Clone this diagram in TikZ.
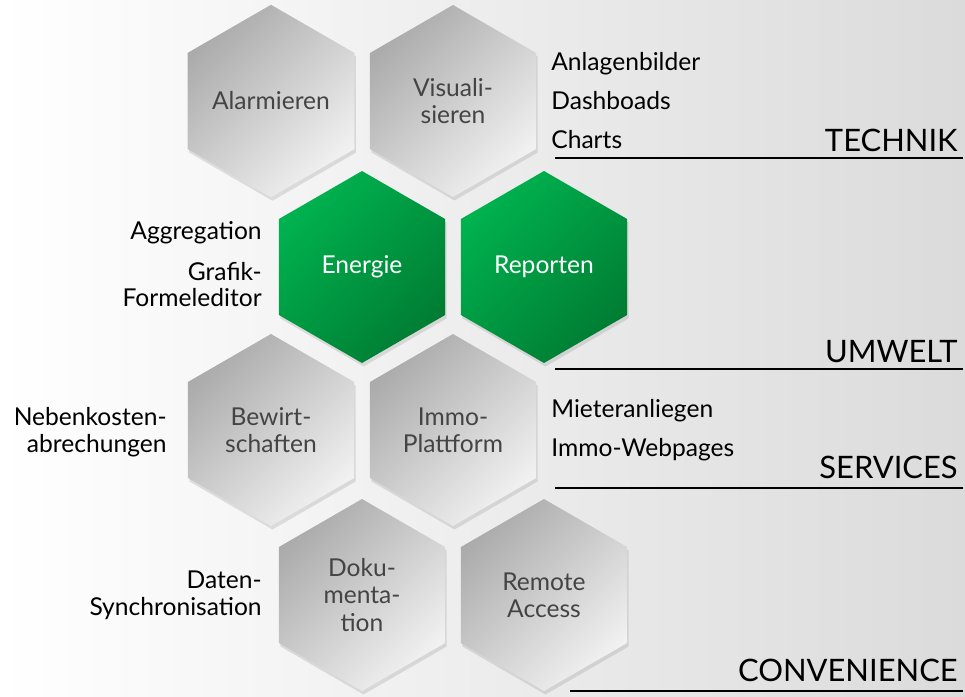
\documentclass[tikz,border=0pt]{standalone}
\usepackage{fontspec}
\setmainfont{Lato}
\usetikzlibrary{shapes.geometric,shadows}

\definecolor{hexdark}{HTML}{ABABAB}
\definecolor{hexlight}{HTML}{F1F1F1}
\definecolor{greenlight}{HTML}{00B24F}
\definecolor{greendark}{HTML}{007D33}
\definecolor{hextext}{HTML}{444444}
\definecolor{bgright}{HTML}{DBDBDB}

\tikzset{
  hexcell/.style={regular polygon, regular polygon sides=6, shape border rotate=30,
    minimum size=3.84cm, inner sep=0pt, align=center, text=hextext,
    top color=hexdark, bottom color=hexlight, shading angle=45,
    font=\fontsize{14}{15.5}\selectfont,
    drop shadow={opacity=0.22, shadow xshift=0.03cm, shadow yshift=-0.07cm}},
  hexgreen/.style={hexcell, text=white, top color=greenlight, bottom color=greendark, shading angle=45},
  sidelabel/.style={font=\fontsize{14}{15.5}\selectfont, align=right, inner sep=0pt},
  areatitle/.style={font=\fontsize{17.6}{21}\selectfont, anchor=base east, inner sep=0pt},
  arealine/.style={line width=0.9pt, black}
}

\begin{document}
\begin{tikzpicture}[x=0.02cm, y=-0.02cm]
  % --- Background ---
  \useasboundingbox (0,0) rectangle (965,697);
  \shade[left color=white, right color=bgright] (0,0) rectangle (965,697);

  % --- Honeycomb ---
  \node[hexcell]  (alarm)  at (271,101) {Alarmieren};
  \node[hexcell]  (visual) at (453,101) {Visuali-\\sieren};
  \node[hexgreen] (energy) at (362,267) {Energie};
  \node[hexgreen] (report) at (544,267) {Reporten};
  \node[hexcell]  (bewirt) at (271,430) {Bewirt-\\schaften};
  \node[hexcell]  (immo)   at (453,430) {Immo-\\Plattform};
  \node[hexcell]  (doku)   at (362,595) {Doku-\\menta-\\tion};
  \node[hexcell]  (remote) at (544,595) {Remote\\Access};

  % --- Labels right ---
  \node[sidelabel, anchor=base west] (anlagen) at (551,70)  {Anlagenbilder};
  \node[sidelabel, anchor=base west] (dash)    at (551,109) {Dashboads};
  \node[sidelabel, anchor=base west] (charts)  at (551,148) {Charts};
  \node[sidelabel, anchor=base west] (mieter)  at (551,417) {Mieteranliegen};
  \node[sidelabel, anchor=base west] (webpage) at (551,456) {Immo-Webpages};

  % --- Labels left ---
  \node[sidelabel, anchor=base east] (aggr)   at (262,239) {Aggregation};
  \node[sidelabel, anchor=base east] (grafik) at (262,280) {Grafik-};
  \node[sidelabel, anchor=base east] (formel) at (262,306) {Formeleditor};
  \node[sidelabel, anchor=base east] (neben)  at (167,425) {Nebenkosten-};
  \node[sidelabel, anchor=base east] (abrech) at (167,452) {abrechungen};
  \node[sidelabel, anchor=base east] (daten)  at (262,588) {Daten-};
  \node[sidelabel, anchor=base east] (sync)   at (262,615) {Synchronisation};

  % --- Areas ---
  \node[areatitle] (technik) at (958,151) {TECHNIK};
  \draw[arealine] (555,158) -- (963,158);
  \node[areatitle] (umwelt) at (958,362) {UMWELT};
  \draw[arealine] (555,369) -- (963,369);
  \node[areatitle] (services) at (958,478) {SERVICES};
  \draw[arealine] (555,488) -- (963,488);
  \node[areatitle] (conv) at (958,681) {CONVENIENCE};
  \draw[arealine] (570,691) -- (963,691);
\end{tikzpicture}
\end{document}
